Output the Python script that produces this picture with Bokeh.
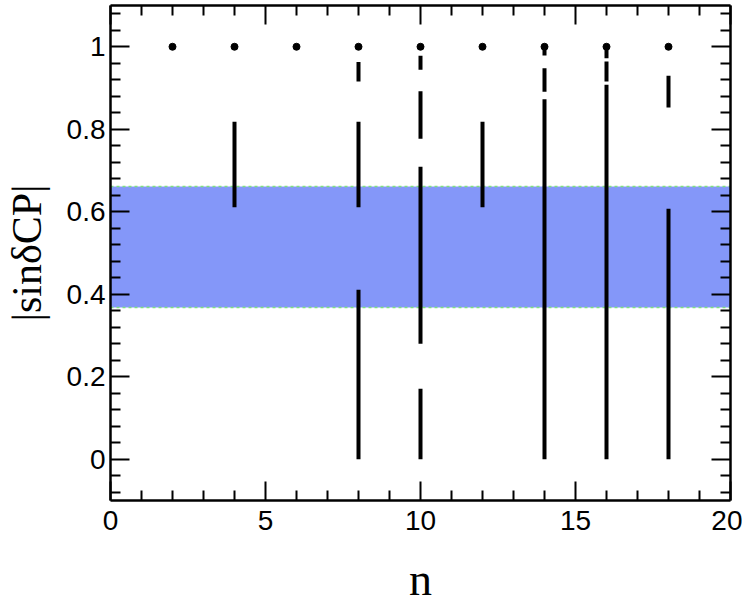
from bokeh.plotting import figure
from bokeh.models import LinearAxis, FixedTicker, Range1d
from bokeh.embed import file_html
from bokeh.resources import INLINE

# ---------------- data ----------------
dot_n = [2, 4, 6, 8, 10, 12, 14, 16, 18]
dot_val = [1, 1, 1, 1, 1, 1, 1, 1, 1]

seg_n = [4, 8, 8, 8, 10, 10, 10, 10, 12, 14, 14, 14, 16, 16, 16, 18, 18]
seg_lo = [0.611, 0.916, 0.611, 0.0, 0.944, 0.777, 0.280, 0.0, 0.611,
          0.979, 0.891, 0.0, 0.972, 0.916, 0.0, 0.853, 0.0]
seg_hi = [0.818, 0.963, 0.818, 0.411, 0.978, 0.892, 0.709, 0.171, 0.818,
          1.0, 0.948, 0.873, 1.0, 0.964, 0.908, 0.930, 0.607]

band_x = [0, 20]
band_lower = [0.368, 0.368]
band_upper = [0.661, 0.661]

x_major = [0, 5, 10, 15, 20]
x_minor = [1, 2, 3, 4, 6, 7, 8, 9, 11, 12, 13, 14, 16, 17, 18, 19]
y_major = [0, 0.2, 0.4, 0.6, 0.8, 1]
y_major_labels = ["0", "0.2", "0.4", "0.6", "0.8", "1"]
y_minor = [-0.08, -0.04, 0.04, 0.08, 0.12, 0.16, 0.24, 0.28, 0.32, 0.36,
           0.44, 0.48, 0.52, 0.56, 0.64, 0.68, 0.72, 0.76, 0.84, 0.88,
           0.92, 0.96, 1.04, 1.08]

x_title = "n"
y_title = "|sinδCP|"

X0, X1 = 0, 20
Y0, Y1 = -0.1, 1.1

FW, FH = 620, 495

p = figure(frame_width=FW, frame_height=FH,
           x_range=Range1d(X0, X1), y_range=Range1d(Y0, Y1),
           x_axis_type=None, y_axis_type=None,
           output_backend="svg", toolbar_location=None,
           min_border_left=108, min_border_right=12,
           min_border_top=5, min_border_bottom=108)
p.grid.visible = False
p.outline_line_color = None
p.background_fill_color = "white"
p.border_fill_color = "white"


def style_axis(ax, labels):
    ax.axis_line_width = 2.5
    ax.axis_line_color = "black"
    ax.major_tick_in = 19
    ax.major_tick_out = 0
    ax.minor_tick_in = 10
    ax.minor_tick_out = 0
    ax.major_tick_line_width = 2
    ax.minor_tick_line_width = 2
    ax.major_tick_line_color = "black"
    ax.minor_tick_line_color = "black"
    if labels:
        ax.major_label_text_font = "Liberation Sans"
        ax.major_label_text_font_size = "28px"
        ax.major_label_text_color = "black"
        ax.axis_label_text_font = "Liberation Serif"
        ax.axis_label_text_font_style = "normal"
        ax.axis_label_text_color = "black"
    else:
        ax.major_label_text_font_size = "0px"
        ax.major_label_standoff = 0


xt = FixedTicker(ticks=x_major, minor_ticks=x_minor)
yt = FixedTicker(ticks=y_major, minor_ticks=y_minor)

bottom = LinearAxis(ticker=xt, axis_label=x_title)
style_axis(bottom, True)
bottom.major_label_standoff = 10
bottom.axis_label_text_font_size = "46px"
bottom.axis_label_standoff = 21

top = LinearAxis(ticker=xt, major_label_overrides={v: "" for v in x_major})
style_axis(top, False)

left = LinearAxis(ticker=yt, axis_label=y_title,
                  major_label_overrides=dict(zip(y_major, y_major_labels)))
style_axis(left, True)
left.major_label_standoff = 5
left.axis_label_text_font_size = "42px"
left.axis_label_standoff = 14

right = LinearAxis(ticker=yt, major_label_overrides={v: "" for v in y_major})
style_axis(right, False)

p.add_layout(bottom, "below")
p.add_layout(top, "above")
p.add_layout(left, "left")
p.add_layout(right, "right")

# band
p.varea(x=band_x, y1=band_lower, y2=band_upper, fill_color="#8497f9", fill_alpha=1.0)
p.line(band_x, band_lower, line_color="#7fe07f", line_width=1.5, line_dash="3 3")
p.line(band_x, band_upper, line_color="#7fe07f", line_width=1.5, line_dash="3 3")

# data
p.segment(x0=seg_n, y0=seg_lo, x1=seg_n, y1=seg_hi, line_color="black", line_width=4)
p.scatter(dot_n, dot_val, size=7, color="black")

open("out.html", "w").write(file_html(p, INLINE))
